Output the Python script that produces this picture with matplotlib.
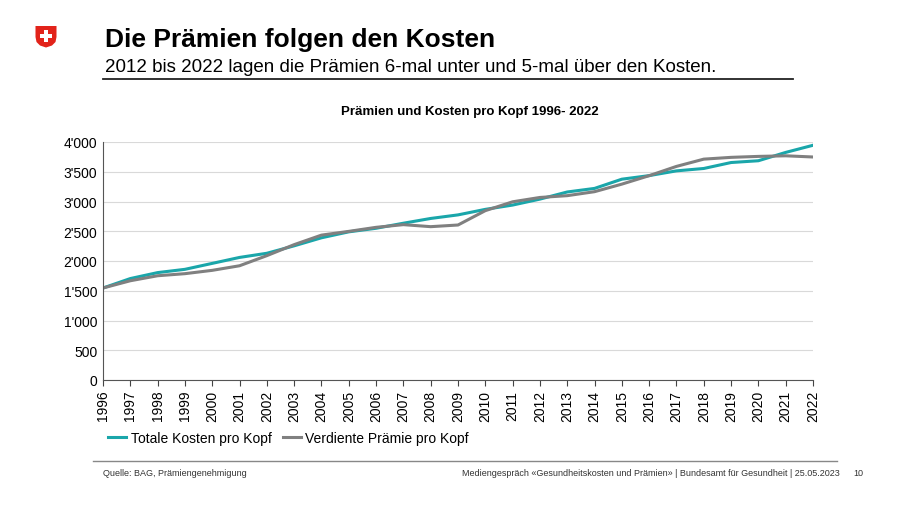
import matplotlib
matplotlib.use("Agg")
import matplotlib.pyplot as plt
from matplotlib.patches import Polygon, Rectangle
from matplotlib.lines import Line2D
from matplotlib.ticker import FuncFormatter

plt.rcParams['font.family'] = ['Liberation Sans', 'DejaVu Sans']

years = list(range(1996, 2023))
kosten = [1546, 1705, 1805, 1860, 1960, 2060, 2130, 2255, 2390, 2490, 2550, 2635,
          2715, 2775, 2868, 2940, 3040, 3160, 3220, 3375, 3435, 3515, 3555, 3655,
          3685, 3825, 3945]
praemie = [1546, 1668, 1752, 1787, 1843, 1920, 2090, 2275, 2435, 2498, 2566, 2611,
           2577, 2605, 2846, 2995, 3068, 3098, 3165, 3292, 3434, 3590, 3712, 3742,
           3758, 3768, 3748]

teal = '#1aa6aa'
grey = '#808080'

fig = plt.figure(figsize=(9, 5.06), dpi=100)
ax = fig.add_axes([103 / 900, 1 - 381 / 506, 710 / 900, 238 / 506])

ax.plot(years, kosten, color=teal, lw=2.2, label='Totale Kosten pro Kopf')
ax.plot(years, praemie, color=grey, lw=2.2, label='Verdiente Prämie pro Kopf')

ax.set_xlim(1996, 2022)
ax.set_ylim(0, 4000)
ax.set_yticks(range(0, 4001, 500))
ax.set_xticks(years)
ax.set_xticklabels([str(y) for y in years], rotation=90, fontsize=10)
ax.yaxis.set_major_formatter(FuncFormatter(lambda v, p: f"{int(v):,}".replace(',', "'")))
ax.tick_params(axis='y', labelsize=10, length=0, pad=4)
ax.tick_params(axis='x', length=4, color='#444444', pad=3)
ax.grid(axis='y', color='#d9d9d9', lw=0.8)
ax.set_axisbelow(True)
for s in ['top', 'right']:
    ax.spines[s].set_visible(False)
for s in ['left', 'bottom']:
    ax.spines[s].set_color('#555555')

ax.set_title('Prämien und Kosten pro Kopf 1996- 2022', fontsize=9.5, fontweight='bold', pad=20,
             x=(470 - 103) / 710)

ax.legend(loc='upper left', bbox_to_anchor=(-0.01, -0.16), ncol=2, frameon=False,
          fontsize=10, handlelength=1.3, handletextpad=0.3, columnspacing=0.8)

# header
fig.text(105 / 900, 1 - 40 / 506, 'Die Prämien folgen den Kosten', fontsize=19, fontweight='bold',
         va='center', ha='left')
fig.text(105 / 900, 1 - 68 / 506,
         '2012 bis 2022 lagen die Prämien 6-mal unter und 5-mal über den Kosten.',
         fontsize=13.5, va='center', ha='left')
fig.add_artist(Line2D([103 / 900, 793 / 900], [1 - 80 / 506, 1 - 80 / 506], color='#222222', lw=1.3))

# swiss shield
sx = [35.5, 56.5, 56.5, 55.5, 52, 46, 40, 36.5, 35.5]
sy = [27, 27, 38, 43, 46.5, 48.5, 46.5, 43, 38]
fig.add_artist(Polygon([(x / 900, 1 - y / 506) for x, y in zip(sx, sy)], closed=True,
                       facecolor='#e2231a', edgecolor='none'))
fig.add_artist(Rectangle((44.2 / 900, 1 - 43 / 506), 3.6 / 900, 12 / 506, facecolor='white', edgecolor='none'))
fig.add_artist(Rectangle((40 / 900, 1 - 38.8 / 506), 12 / 900, 3.6 / 506, facecolor='white', edgecolor='none'))

# footer
fig.add_artist(Line2D([93 / 900, 837 / 900], [1 - 462 / 506, 1 - 462 / 506], color='#888888', lw=1.0))
fig.text(103 / 900, 1 - 473 / 506, 'Quelle: BAG, Prämiengenehmigung', fontsize=6.5, va='center', color='#333333')
fig.text(840 / 900, 1 - 473 / 506,
         'Mediengespräch «Gesundheitskosten und Prämien» | Bundesamt für Gesundheit | 25.05.2023',
         fontsize=6.5, va='center', ha='right', color='#333333')
fig.text(858 / 900, 1 - 473 / 506, '10', fontsize=6.5, va='center', ha='center', color='#333333')

fig.savefig('out.png', dpi=100)
